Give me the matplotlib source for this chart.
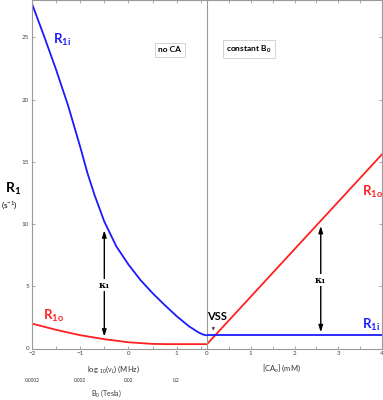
import matplotlib
matplotlib.use('Agg')
import matplotlib.pyplot as plt
from matplotlib.ticker import MultipleLocator

plt.rcParams['font.family'] = ['Lato', 'DejaVu Sans']
plt.rcParams['mathtext.fontset'] = 'custom'
plt.rcParams['mathtext.rm'] = 'Lato'
plt.rcParams['mathtext.bf'] = 'Lato:bold'
plt.rcParams['mathtext.it'] = 'Lato:italic'

# left panel: field dependence, log10 of Larmor frequency (MHz)
log_nu = [-2.00, -1.75, -1.50, -1.25, -1.00, -0.85, -0.70, -0.50, -0.25, 0.00,
          0.25, 0.50, 0.75, 1.00, 1.25, 1.45, 1.55, 1.63]
r1i_left = [27.7, 25.1, 22.4, 19.5, 16.2, 14.1, 12.3, 10.2, 8.2, 6.75,
            5.5, 4.45, 3.5, 2.6, 1.8, 1.3, 1.12, 1.05]
log_nu_o = [-2.00, -1.50, -1.00, -0.50, 0.00, 0.50, 0.80, 1.63]
r1o_left = [2.0, 1.5, 1.07, 0.75, 0.5, 0.37, 0.35, 0.35]

# right panel: constant B0, extracellular CA concentration (mM)
ca_o = [0.0, 4.0]
r1i_right = [1.05, 1.05]
r1o_right = [0.35, 15.6]

b0_labels = ['0.0002', '0.002', '0.02', '0.2']
b0_pos = [-2, -1, 0, 1]

BLUE = '#1a1aff'
RED = '#ff2020'
GREY = '#9a9a9a'
W, H = 383., 400.

fig = plt.figure(figsize=(3.83, 4.0), dpi=100)
axl = fig.add_axes([32/W, 51.5/H, 175/W, 348.5/H])
axr = fig.add_axes([207/W, 51.5/H, 175/W, 348.5/H])

for ax in (axl, axr):
    ax.set_ylim(0, 28)
    for sp in ax.spines.values():
        sp.set_color(GREY)
        sp.set_linewidth(0.8)
    ax.tick_params(which='both', direction='in', color=GREY, labelsize=4.5,
                   labelcolor='#444444', top=True, length=2.5, width=0.6, pad=2)
    ax.xaxis.set_minor_locator(MultipleLocator(0.5))
    ax.yaxis.set_major_locator(MultipleLocator(5))

axl.set_xlim(-2, 1.63)
axl.set_xticks([-2, -1, 0, 1])
axl.spines['right'].set_visible(False)
axl.tick_params(axis='y', right=False)

axr.set_xlim(0, 4)
axr.set_xticks([0, 1, 2, 3, 4])
axr.tick_params(axis='y', left=False, right=True, labelleft=False)

axl.plot(log_nu, r1i_left, color=BLUE, lw=1.3)
axl.plot(log_nu_o, r1o_left, color=RED, lw=1.3)
axr.plot(ca_o, r1i_right, color=BLUE, lw=1.3, zorder=3)
axr.plot(ca_o, r1o_right, color=RED, lw=1.3, zorder=2)

# curve labels
axl.text(-1.56, 24.5, r'$\mathbf{R}_{\mathbf{1i}}$', color=BLUE, fontsize=9.5)
axl.text(-1.77, 2.3, r'$\mathbf{R}_{\mathbf{1o}}$', color=RED, fontsize=9.5)
axr.text(3.54, 12.3, r'$\mathbf{R}_{\mathbf{1o}}$', color=RED, fontsize=9.5)
axr.text(3.54, 1.55, r'$\mathbf{R}_{\mathbf{1i}}$', color=BLUE, fontsize=9.5)

# kappa arrows
arrow = dict(arrowstyle='<|-|>,head_length=0.8,head_width=0.25', color='black', lw=1.0,
             mutation_scale=5, shrinkA=0, shrinkB=0)
axl.annotate('', xy=(-0.5, 0.95), xytext=(-0.5, 9.5), arrowprops=arrow)
axr.annotate('', xy=(2.6, 1.3), xytext=(2.6, 9.85), arrowprops=arrow)
kbox = dict(facecolor='white', edgecolor='none', pad=1.0)
axl.text(-0.5, 5.1, 'κ₁', family='DejaVu Serif', fontweight='bold', fontsize=7,
         ha='center', va='center', bbox=kbox)
axr.text(2.6, 5.5, 'κ₁', family='DejaVu Serif', fontweight='bold', fontsize=7,
         ha='center', va='center', bbox=kbox)

# VSS
axr.annotate('', xy=(0.145, 1.22), xytext=(0.145, 1.95),
             arrowprops=dict(arrowstyle='->', color='#333333', lw=0.6, mutation_scale=4))
axr.text(0.24, 2.6, 'VSS', fontsize=8, fontweight='bold', ha='center', va='center')

# boxed region labels
box = dict(facecolor='white', edgecolor='#cccccc', lw=0.6, boxstyle='square,pad=0.45')
fig.text(170/W, 1 - 50/H, 'no CA', fontsize=6, fontweight='bold', ha='center', va='center', bbox=box)
fig.text(249/W, 1 - 49/H, r'constant B$_\mathbf{0}$', fontsize=6, fontweight='bold',
         ha='center', va='center', bbox=box)

# y label
fig.text(13/W, 1 - 193/H, r'$\mathbf{R}_{\mathbf{1}}$', fontsize=10, ha='center', va='baseline')
fig.text(9/W, 1 - 205/H, r'(s$^{-1}$)', fontsize=6, ha='center', va='center')

# x labels
fig.text(114/W, 1 - 369/H, r'log $_{10}$($\nu_L$) (MHz)', fontsize=5.5, color='#333333',
         ha='center', va='center')
fig.text(282/W, 1 - 368/H, r'[CA$_o$] (mM)', fontsize=5.5, color='#333333',
         ha='center', va='center')

# B0 scale under the left panel
for pos, lab in zip(b0_pos, b0_labels):
    axl.text(pos, -32/348.5, lab, transform=axl.get_xaxis_transform(), fontsize=3.5,
             color='#333333', ha='center', va='center')
fig.text(106/W, 1 - 393/H, r'B$_0$ (Tesla)', fontsize=5, color='#333333', ha='center', va='center')

fig.savefig('out.png', dpi=100)
